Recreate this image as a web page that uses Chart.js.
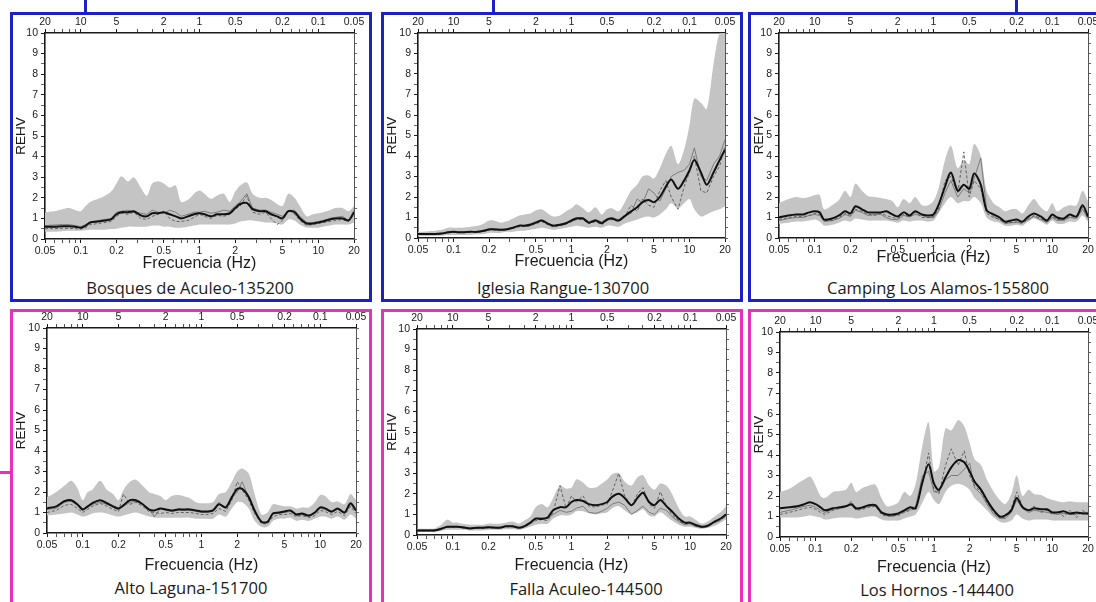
<!DOCTYPE html>
<html><head><meta charset="utf-8">
<script src="https://cdn.jsdelivr.net/npm/chart.js@4.4.0/dist/chart.umd.min.js"></script>
<style>
body{margin:0;width:1096px;height:602px;overflow:hidden;background:#fff;position:relative;font-family:"Liberation Sans",Arial,sans-serif}
.panel{position:absolute;box-sizing:border-box;border:3px solid}
.blue{border-color:#1b22c4}
.mag{border-color:#e431bf}
canvas{position:absolute}
.title{position:absolute;font-family:"Open Sans",sans-serif;font-size:16.5px;color:#1a1a1a;transform:translate(-50%,-50%);white-space:nowrap}
.stub{position:absolute}
</style>
</head><body>
<script>
// ---------- data ----------
const FREQ = [0.05,0.06,0.07,0.08,0.09,0.1,0.11,0.12,0.14,0.16,0.18,0.2,0.22,0.25,0.28,0.32,0.36,0.4,0.45,0.5,0.56,0.63,0.7,0.8,0.9,1.0,1.1,1.25,1.4,1.6,1.8,2.0,2.2,2.5,2.8,3.2,3.6,4.0,4.5,5.0,5.6,6.3,7.0,8.0,9.0,10,11,12.5,14,16,18,20];
const X_MAJOR = [0.05,0.1,0.2,0.5,1,2,5,10,20];
const X_MINOR = [0.06,0.07,0.08,0.09,0.3,0.4,0.6,0.7,0.8,0.9,3,4,6,7,8,9];
const FREQ_LABELS = ['0.05','0.1','0.2','0.5','1','2','5','10','20'];
const PERIOD_LABELS = ['20','10','5','2','1','0.5','0.2','0.1','0.05'];
const X_TITLE = 'Frecuencia (Hz)';
const Y_TITLE = 'REHV';
const STATIONS = ['Bosques de Aculeo-135200','Iglesia Rangue-130700','Camping Los Alamos-155800','Alto Laguna-151700','Falla Aculeo-144500','Los Hornos -144400'];

// Bosques de Aculeo
const BOS_MEAN = [0.6,0.6,0.62,0.62,0.6, 0.55,0.65,0.8,0.85,0.9,0.95, 1.2,1.3,1.3,1.35,1.15,1.1,1.25,1.25, 1.3,1.2,1.1,1.0,1.1,1.2, 1.25,1.2,1.1,1.2,1.2,1.25, 1.5,1.7,1.75,1.45,1.35,1.35,1.2,1.1, 1.0,1.35,1.3,1.0,0.75,0.75, 0.8,0.85,0.95,1.0,1.0,0.9,1.3];
const BOS_UP = [1.3,1.35,1.45,1.5,1.4, 1.35,1.6,1.8,1.95,2.1,2.3, 2.7,3.05,2.8,3.0,2.5,2.1,2.7,2.8, 2.7,2.5,2.6,1.8,1.9,2.2, 2.35,2.2,1.95,2.1,2.2,1.8, 2.3,2.6,2.75,2.2,2.0,2.0,1.9,1.7, 1.6,2.2,2.0,1.6,1.1,1.2, 1.25,1.3,1.4,1.5,1.5,1.35,1.6];
const BOS_LO = [0.35,0.35,0.38,0.4,0.4, 0.4,0.42,0.45,0.45,0.45,0.48, 0.5,0.55,0.6,0.6,0.6,0.6,0.65,0.65, 0.6,0.6,0.55,0.55,0.6,0.65, 0.7,0.7,0.7,0.7,0.7,0.7, 0.75,0.85,0.9,0.9,0.85,0.8,0.8,0.75, 0.7,0.95,0.9,0.7,0.55,0.55, 0.55,0.6,0.65,0.7,0.7,0.7,0.8];
const BOS_C1 = [0.5,0.5,0.52,0.52,0.5, 0.48,0.55,0.7,0.75,0.8,0.85, 1.1,1.25,1.2,1.3,1.0,0.95,1.1,1.2, 1.35,1.0,0.85,0.85,0.9,1.05, 1.2,1.1,1.0,1.15,1.1,1.2, 1.45,1.6,2.1,1.3,1.2,1.3,1.0,0.7, 0.9,1.4,1.2,0.9,0.65,0.7, 0.75,0.8,0.85,0.9,0.95,0.85,1.2];
const BOS_C2 = [0.65,0.68,0.7,0.7,0.65, 0.6,0.7,0.82,0.9,0.95,1.0, 1.3,1.35,1.4,1.3,1.25,1.2,1.4,1.3, 1.25,1.4,1.3,1.1,1.2,1.3, 1.3,1.35,1.25,1.3,1.4,1.35, 1.6,1.8,2.2,1.5,1.4,1.4,1.3,1.2, 1.1,1.35,1.4,1.1,0.8,0.8, 0.85,0.9,1.0,1.05,1.1,0.9,1.4];

// Iglesia Rangue
const IGL_MEAN = [0.2,0.2,0.2,0.22,0.28, 0.3,0.28,0.28,0.3,0.3,0.35, 0.42,0.42,0.4,0.42,0.5,0.6,0.6,0.65, 0.75,0.85,0.7,0.6,0.65,0.72, 0.85,0.95,0.95,0.75,0.85,0.72, 0.9,0.95,0.85,1.05,1.3,1.5,1.75,1.85, 1.75,2.0,2.5,2.85,2.4,2.8, 3.3,3.8,3.2,2.6,3.2,3.8,4.3];
const IGL_UP = [0.3,0.32,0.35,0.4,0.5, 0.5,0.5,0.5,0.55,0.6,0.7, 0.85,0.85,0.75,0.8,0.95,1.1,1.15,1.2, 1.35,1.4,1.2,1.05,1.1,1.3, 1.45,1.65,1.45,1.25,1.5,1.15, 1.4,1.45,1.3,1.7,2.3,2.6,3.0,3.05, 2.9,3.4,4.1,4.5,3.6,4.3, 5.5,6.8,6.6,6.3,8.5,10,10];
const IGL_LO = [0.1,0.1,0.1,0.12,0.15, 0.15,0.15,0.15,0.15,0.18,0.2, 0.25,0.25,0.25,0.3,0.3,0.35,0.35,0.4, 0.45,0.5,0.45,0.4,0.45,0.5, 0.55,0.6,0.55,0.5,0.55,0.5, 0.6,0.6,0.55,0.7,0.8,0.9,1.0,1.05, 1.0,1.15,1.4,1.7,1.45,1.7, 1.9,1.4,1.05,1.15,1.3,1.4,1.55];
const IGL_C1 = [0.18,0.18,0.18,0.2,0.25, 0.28,0.26,0.26,0.28,0.28,0.32, 0.4,0.4,0.38,0.4,0.48,0.55,0.58,0.6, 0.7,0.8,0.65,0.55,0.6,0.68, 0.8,0.9,0.9,0.7,0.8,0.65, 0.85,0.9,0.8,1.0,1.6,1.3,1.9,1.6, 1.5,2.3,2.8,2.0,1.4,2.5, 3.2,4.0,2.3,2.2,3.0,3.5,4.5];
const IGL_C2 = [0.22,0.22,0.22,0.24,0.3, 0.32,0.3,0.3,0.32,0.32,0.38, 0.45,0.45,0.42,0.45,0.52,0.62,0.62,0.7, 0.8,0.88,0.72,0.62,0.68,0.75, 0.9,1.0,1.0,0.8,0.9,0.78, 0.95,1.0,0.9,1.1,1.2,1.9,1.7,2.4, 2.2,1.8,2.4,3.0,3.2,3.3, 3.6,4.4,3.0,2.8,3.6,4.0,4.8];

// Camping Los Alamos
const CAM_MEAN = [1.0,1.1,1.15,1.15,1.25, 1.3,1.25,0.9,0.95,1.1,1.3, 1.2,1.55,1.4,1.25,1.25,1.25,1.3,1.15, 1.05,1.25,1.1,1.3,1.15,1.1, 1.15,1.6,2.5,3.2,2.3,2.6, 2.4,3.15,2.6,1.35,1.15,1.0,0.8,0.85, 0.9,0.8,1.05,1.2,1.05,0.85, 1.15,1.0,0.95,1.15,1.05,1.6,1.05];
const CAM_UP = [1.7,1.9,2.0,1.95,2.0, 2.1,2.1,1.4,1.6,1.85,2.3, 2.0,2.65,2.3,2.05,2.0,1.95,1.9,1.8, 1.5,1.9,1.7,2.0,1.6,1.6, 1.8,2.4,3.8,4.5,3.4,3.8, 3.6,4.6,4.0,2.3,1.7,1.5,1.3,1.4, 1.4,1.2,1.6,1.9,1.5,1.3, 1.7,1.3,1.5,1.6,1.6,2.3,1.8];
const CAM_LO = [0.7,0.75,0.8,0.8,0.85, 0.9,0.8,0.6,0.65,0.75,0.85, 0.8,0.95,0.9,0.85,0.85,0.85,0.85,0.8, 0.75,0.85,0.8,0.85,0.85,0.8, 0.85,1.2,1.7,2.0,1.7,1.8, 1.8,2.0,1.7,1.0,0.8,0.75,0.6,0.6, 0.65,0.6,0.8,0.95,0.8,0.65, 0.85,0.7,0.7,0.8,0.8,1.1,0.8];
const CAM_C1 = [0.9,1.0,1.05,1.05,1.1, 1.2,1.15,0.85,0.85,1.0,1.2, 1.1,1.4,1.3,1.15,1.1,1.2,1.1,1.0, 0.95,1.15,1.0,1.25,1.0,1.0, 1.05,1.4,2.8,3.0,2.2,4.2, 2.0,2.8,2.4,1.2,1.0,0.9,0.75,0.75, 0.8,0.7,0.95,1.1,0.95,0.8, 1.05,0.9,0.9,1.05,1.0,1.5,1.0];
const CAM_C2 = [0.85,0.95,1.0,1.0,1.1, 1.15,1.1,0.8,0.85,0.95,1.15, 1.05,1.35,1.25,1.1,1.15,1.15,1.0,0.9, 0.9,1.1,1.05,1.15,1.1,1.0, 1.0,1.3,2.2,2.8,2.0,2.4, 2.2,2.9,3.9,1.4,1.05,0.9,0.7,0.75, 0.75,0.75,0.9,1.05,0.9,0.75, 1.0,0.85,0.85,1.0,0.95,1.4,0.95];

// Alto Laguna
const ALT_MEAN = [1.2,1.3,1.55,1.6,1.4, 1.15,1.3,1.45,1.6,1.45,1.3, 1.2,1.35,1.6,1.6,1.4,1.15,1.1,1.2, 1.15,1.1,1.15,1.15,1.15,1.1, 1.05,1.05,1.1,1.4,1.25,1.75, 2.15,2.15,1.75,1.1,0.55,0.55,0.95,1.0, 1.05,1.1,0.9,0.95,0.85,1.0, 1.25,1.2,1.05,1.2,1.0,1.45,1.1];
const ALT_UP = [1.75,2.0,2.3,2.55,2.2, 1.6,2.0,2.1,2.55,2.1,1.9, 1.6,2.1,2.5,2.6,2.3,2.0,1.9,1.8, 1.6,1.8,1.85,1.8,1.7,1.5, 1.45,1.45,1.5,1.9,2.0,2.5, 3.0,3.15,2.9,1.9,0.9,1.0,1.4,1.35, 1.3,1.3,1.2,1.25,1.25,1.5, 1.85,1.8,1.5,1.55,1.4,1.9,1.6];
const ALT_LO = [0.85,0.9,0.95,1.0,0.9, 0.8,0.85,0.95,1.0,0.95,0.85, 0.8,0.85,0.95,1.0,0.9,0.8,0.75,0.75, 0.75,0.75,0.75,0.75,0.75,0.7, 0.7,0.7,0.7,0.9,0.8,1.2, 1.5,1.5,1.2,0.6,0.3,0.3,0.6,0.7, 0.7,0.75,0.6,0.65,0.6,0.7, 0.8,0.8,0.7,0.8,0.65,0.9,0.7];
const ALT_C1 = [1.0,1.1,1.35,1.4,1.2, 1.0,1.15,1.3,1.45,1.3,1.15, 1.05,1.9,1.4,1.5,1.3,1.05,1.0,0.95, 1.0,0.95,1.0,1.0,1.0,0.95, 0.9,0.9,0.95,1.2,1.05,1.6, 2.5,2.1,1.6,0.95,0.45,0.45,0.8,0.9, 0.9,0.95,0.8,0.85,0.75,0.85, 1.1,1.05,0.9,1.05,0.85,1.3,0.95];
const ALT_C2 = [1.15,1.2,1.5,1.55,1.35, 1.1,1.25,1.4,1.5,1.4,1.25, 1.15,1.3,1.5,1.55,1.4,1.2,0.8,1.2, 1.1,1.05,1.1,1.1,1.1,1.05, 1.0,1.0,1.05,1.5,1.2,1.7, 2.0,2.5,1.7,1.0,0.5,0.5,1.0,0.95, 1.0,1.05,0.85,0.9,0.8,0.95, 1.2,1.15,1.0,1.15,0.95,1.4,1.05];

// Falla Aculeo
const FAL_MEAN = [0.22,0.22,0.22,0.3,0.4, 0.4,0.4,0.38,0.32,0.35,0.35, 0.38,0.36,0.35,0.42,0.42,0.35,0.42,0.6, 0.8,0.78,0.85,1.2,1.35,1.35, 1.6,1.7,1.65,1.5,1.45,1.5, 1.6,1.85,2.0,1.8,1.45,1.8,2.05,1.6, 1.45,1.7,1.4,1.15,0.8,0.6, 0.6,0.5,0.4,0.45,0.65,0.8,1.0];
const FAL_UP = [0.3,0.3,0.32,0.5,0.75, 0.6,0.6,0.55,0.5,0.5,0.5, 0.55,0.55,0.55,0.6,0.65,0.55,0.7,0.9, 1.35,1.5,1.35,1.8,2.4,2.25, 2.3,2.7,2.55,2.3,2.3,2.5, 2.7,2.95,3.0,2.6,2.4,2.8,2.9,2.4, 2.2,2.5,2.4,2.0,1.3,0.9, 0.9,0.75,0.55,0.65,0.9,1.1,1.4];
const FAL_LO = [0.15,0.15,0.15,0.2,0.25, 0.25,0.25,0.25,0.22,0.22,0.22, 0.25,0.25,0.25,0.28,0.28,0.25,0.3,0.4, 0.5,0.55,0.55,0.8,0.95,0.95, 1.0,1.15,1.15,1.05,1.0,1.05, 1.1,1.3,1.4,1.2,1.0,1.1,1.25,0.95, 0.9,1.1,0.9,0.7,0.5,0.4, 0.4,0.35,0.3,0.35,0.45,0.6,0.75];
const FAL_C1 = [0.2,0.2,0.2,0.28,0.38, 0.38,0.38,0.35,0.3,0.32,0.33, 0.35,0.34,0.33,0.4,0.4,0.33,0.4,0.55, 0.7,0.75,0.7,1.1,2.4,1.3, 1.9,1.6,1.9,1.4,1.35,1.45, 1.5,2.1,3.0,1.9,1.4,2.0,2.3,1.5, 1.3,2.1,1.4,1.0,0.7,0.55, 0.55,0.45,0.38,0.42,0.6,0.75,0.9];
const FAL_C2 = [0.24,0.24,0.24,0.32,0.42, 0.42,0.42,0.4,0.34,0.37,0.37, 0.4,0.38,0.37,0.44,0.44,0.37,0.45,0.62, 0.8,0.85,0.8,1.0,1.2,1.1, 1.15,1.3,1.4,1.1,1.05,1.15, 1.3,1.5,1.6,1.45,1.0,1.2,1.4,1.1, 1.0,1.3,1.2,0.9,0.65,0.5, 0.55,0.42,0.36,0.4,0.6,0.7,0.95];

// Los Hornos
const HOR_MEAN = [1.4,1.45,1.5,1.6,1.7, 1.6,1.45,1.3,1.4,1.45,1.5, 1.6,1.4,1.45,1.55,1.55,1.2,1.1,1.1, 1.15,1.3,1.45,1.4,2.7,3.55, 2.6,2.3,2.9,3.4,3.75,3.65, 3.2,2.7,2.3,1.8,1.3,1.0,1.05,1.3, 1.9,1.45,1.3,1.4,1.35,1.35, 1.2,1.2,1.25,1.15,1.2,1.15,1.15];
const HOR_UP = [2.2,2.35,2.6,2.8,2.95, 2.5,2.0,1.9,2.2,2.25,2.3, 2.65,2.2,2.4,2.5,2.55,1.9,1.5,1.55, 1.7,2.2,2.0,2.6,4.5,5.6, 3.2,3.4,5.3,5.2,5.7,5.4, 4.6,3.8,3.5,2.8,2.2,1.8,1.6,2.1, 3.0,2.0,2.3,2.1,2.05,1.9, 1.8,1.75,1.7,1.75,1.7,1.7,1.7];
const HOR_LO = [0.95,0.95,0.95,1.0,1.05, 1.0,0.95,0.85,0.9,0.95,0.95, 0.95,0.9,0.95,1.0,1.0,0.85,0.8,0.8, 0.8,0.9,1.0,1.1,1.7,2.2, 1.8,1.6,2.2,2.5,2.6,2.5, 2.3,1.9,1.6,1.3,0.95,0.75,0.7,0.8, 1.1,0.9,0.8,0.85,0.85,0.85, 0.8,0.8,0.8,0.8,0.8,0.8,0.8];
const HOR_C1 = [1.1,1.2,1.3,1.4,1.45, 1.35,1.2,1.1,1.3,1.4,1.45, 1.75,1.3,1.35,1.45,1.5,1.1,1.0,1.05, 1.05,1.2,1.3,1.4,2.6,4.1, 2.3,2.1,3.5,4.3,3.5,4.2, 3.0,2.5,2.2,1.7,1.2,0.95,0.95,1.4, 2.2,1.5,1.3,1.5,1.2,1.3, 1.1,1.25,1.0,1.3,0.95,1.3,1.1];
const HOR_C2 = [1.2,1.3,1.4,1.5,1.55, 1.45,1.3,1.2,1.35,1.4,1.5, 1.55,1.35,1.4,1.5,1.5,1.15,1.05,1.0, 1.1,1.25,1.35,1.5,3.0,3.2, 2.2,2.2,2.8,3.0,3.0,3.3, 3.6,2.4,2.1,1.6,1.1,0.9,0.9,1.2, 1.8,1.4,1.2,1.3,1.25,1.2, 1.15,1.1,1.15,1.1,1.1,1.2,1.2];

const SERIES = [
  [BOS_UP,BOS_LO,BOS_C1,BOS_C2,BOS_MEAN],
  [IGL_UP,IGL_LO,IGL_C1,IGL_C2,IGL_MEAN],
  [CAM_UP,CAM_LO,CAM_C1,CAM_C2,CAM_MEAN],
  [ALT_UP,ALT_LO,ALT_C1,ALT_C2,ALT_MEAN],
  [FAL_UP,FAL_LO,FAL_C1,FAL_C2,FAL_MEAN],
  [HOR_UP,HOR_LO,HOR_C1,HOR_C2,HOR_MEAN]
];

// ---------- layout (pixels) ----------
// panel box [left, top, width, height]; canvas [l,t,r,b]; plot [l,r,t,b]; title centre [x,y]
const LAYOUT = [
  {box:[10,12,362,290], cls:'blue', canvas:[13,15,369,273], plot:[45,354,33,239], tc:[190,287]},
  {box:[381,12,362,290], cls:'blue', canvas:[384,15,740,271], plot:[418,725,33,238], tc:[563,287]},
  {box:[748,12,360,290], cls:'blue', canvas:[751,15,1096,267], plot:[779,1088,33,238], tc:[938,287]},
  {box:[10,309,362,300], cls:'mag', canvas:[13,312,369,575], plot:[47,356,328,533], tc:[191,587]},
  {box:[381,309,362,300], cls:'mag', canvas:[384,312,740,575], plot:[417,726,329,535], tc:[586,588]},
  {box:[748,309,360,300], cls:'mag', canvas:[751,312,1096,577], plot:[780,1088,332,537], tc:[937,589]}
];

const TICK_FONT = {family:'"Liberation Sans", Arial, sans-serif', size:10.5};
const INK = '#1a1a1a';

function majorIdx(v){ return X_MAJOR.findIndex(m => Math.abs(m - v) < 1e-9); }
function xTicks(s){ s.ticks = X_MAJOR.concat(X_MINOR).sort((a,b)=>a-b).map(v => ({value:v})); }

function build(L, S, name){
  const box = document.createElement('div');
  box.className = 'panel ' + L.cls;
  box.style.left = L.box[0]+'px'; box.style.top = L.box[1]+'px';
  box.style.width = L.box[2]+'px'; box.style.height = L.box[3]+'px';
  document.body.appendChild(box);

  const [cl, ct, cr, cb] = L.canvas;
  const [pl, pr, pt, pb] = L.plot;
  const cv = document.createElement('canvas');
  cv.width = cr - cl; cv.height = cb - ct;
  cv.style.left = cl+'px'; cv.style.top = ct+'px';
  document.body.appendChild(cv);

  const t = document.createElement('div');
  t.className = 'title'; t.textContent = name;
  t.style.left = L.tc[0]+'px'; t.style.top = L.tc[1]+'px';
  document.body.appendChild(t);

  const yW = pl - cl, rW = cr - pr, tH = pt - ct, bH = cb - pb;
  const tickCol = c => (c.tick && majorIdx(c.tick.value) >= 0) ? INK : '#555';
  const xGrid = {drawOnChartArea:false, tickLength:4, tickColor:tickCol, tickWidth:1};
  const border = {display:true, color:INK, width:1.6};

  new Chart(cv, {
    type:'line',
    data:{
      labels: FREQ,
      datasets:[
        {data:S[0], fill:'+1', backgroundColor:'#c4c4c4', borderWidth:0, borderColor:'rgba(0,0,0,0)', tension:0.3, order:10},
        {data:S[1], fill:false, borderWidth:0, borderColor:'rgba(0,0,0,0)', tension:0.3, order:10},
        {data:S[2], fill:false, borderColor:'#4a4a4a', borderWidth:0.8, borderDash:[3,2], tension:0, order:5},
        {data:S[3], fill:false, borderColor:'#6a6a6a', borderWidth:0.8, tension:0, order:5},
        {data:S[4], fill:false, borderColor:'#111', borderWidth:2, tension:0.3, order:1}
      ]
    },
    options:{
      responsive:false, animation:false, devicePixelRatio:1,
      layout:{padding:0},
      plugins:{legend:{display:false}, tooltip:{enabled:false}, title:{display:false}},
      elements:{point:{radius:0}},
      scales:{
        x:{type:'logarithmic', position:'bottom', min:0.05, max:20,
           afterBuildTicks:xTicks,
           afterFit:s=>{ s.height = bH; s.paddingLeft = 0; s.paddingRight = 0; },
           ticks:{autoSkip:false, maxRotation:0, minRotation:0, padding:2, font:TICK_FONT, color:INK,
                  callback:v=>{ const i = majorIdx(v); return i >= 0 ? FREQ_LABELS[i] : ''; }},
           grid:xGrid, border:border,
           title:{display:true, text:X_TITLE, color:INK, padding:0,
                  font:{family:'"Liberation Sans", Arial, sans-serif', size:16}}},
        x2:{type:'logarithmic', position:'top', min:0.05, max:20,
           afterBuildTicks:xTicks,
           afterFit:s=>{ s.height = tH; s.paddingLeft = 0; s.paddingRight = 0; },
           ticks:{autoSkip:false, maxRotation:0, minRotation:0, padding:1, font:TICK_FONT, color:INK,
                  callback:v=>{ const i = majorIdx(v); return i >= 0 ? PERIOD_LABELS[i] : ''; }},
           grid:xGrid, border:border},
        y:{type:'linear', position:'left', min:0, max:10,
           afterFit:s=>{ s.width = yW; s.paddingTop = 0; s.paddingBottom = 0; },
           ticks:{stepSize:0.5, autoSkip:false, padding:3, font:TICK_FONT, color:INK,
                  callback:v=> Number.isInteger(v) ? String(v) : ''},
           grid:{drawOnChartArea:false, tickLength:4,
                 tickColor:c=> (c.tick && Number.isInteger(c.tick.value)) ? INK : '#666'},
           border:border,
           title:{display:true, text:Y_TITLE, color:INK, padding:0,
                  font:{family:'"Liberation Sans", Arial, sans-serif', size:13.5}}},
        y2:{type:'linear', position:'right', min:0, max:10,
           afterFit:s=>{ s.width = rW; s.paddingTop = 0; s.paddingBottom = 0; },
           ticks:{display:false, stepSize:0.5},
           grid:{drawOnChartArea:false, tickLength:3, color:'#666'},
           border:{display:true, color:'#555', width:1}}
      }
    }
  });
}

LAYOUT.forEach((L, i) => build(L, SERIES[i], STATIONS[i]));

// small marks visible along the outer edges of the original figure
[[84,0,3,13,'#1b22c4'],[492,0,3,13,'#1b22c4'],[1015,0,3,13,'#1b22c4'],[0,471,11,3,'#e431bf']].forEach(m=>{
  const d = document.createElement('div'); d.className = 'stub';
  d.style.left = m[0]+'px'; d.style.top = m[1]+'px'; d.style.width = m[2]+'px'; d.style.height = m[3]+'px';
  d.style.background = m[4]; document.body.appendChild(d);
});
</script>
</body></html>
